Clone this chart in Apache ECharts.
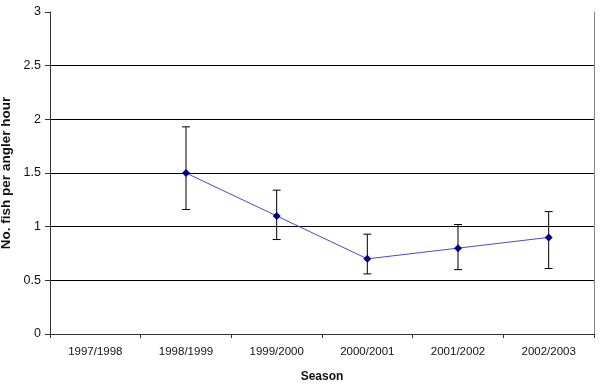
<!DOCTYPE html>
<html><head><meta charset="utf-8">
<script src="https://cdn.jsdelivr.net/npm/echarts@6/dist/echarts.min.js"></script>
<style>html,body{margin:0;padding:0;background:#fff}#c{width:600px;height:389px}</style>
</head><body><div id="c"></div>
<script>
const categories = ['1997/1998','1998/1999','1999/2000','2000/2001','2001/2002','2002/2003'];
const means = [null, 1.5, 1.1, 0.7, 0.8, 0.9];
const upper = [null, 1.93, 1.34, 0.93, 1.02, 1.14];
const lower = [null, 1.16, 0.88, 0.56, 0.6, 0.61];
const yTicks = [0, 0.5, 1, 1.5, 2, 2.5, 3];

const errData = categories.map((c, i) => [i, lower[i], upper[i]]).filter(d => d[1] != null);

const chart = echarts.init(document.getElementById('c'), null, {renderer: 'canvas'});
const font = 'Liberation Sans, Arial, sans-serif';
chart.setOption({
  animation: false,
  grid: {left: 50, right: 6, top: 12, bottom: 55, containLabel: false, outerBoundsMode: 'none'},
  xAxis: {
    type: 'category', data: categories, boundaryGap: true,
    axisLine: {lineStyle: {color: '#333', width: 1}},
    axisTick: {show: true, length: 4, lineStyle: {color: '#333'}},
    axisLabel: {color: '#111', fontSize: 11.5, fontFamily: font, margin: 12},
    name: 'Season', nameLocation: 'middle', nameGap: 37, nameMoveOverlap: false,
    nameTextStyle: {fontWeight: 'bold', fontSize: 12, color: '#111', fontFamily: font}
  },
  yAxis: [{
    type: 'value', min: yTicks[0], max: yTicks[yTicks.length - 1], interval: 0.5,
    axisLine: {show: true, lineStyle: {color: '#333'}},
    axisTick: {show: true, length: 5, lineStyle: {color: '#333'}},
    axisLabel: {color: '#111', fontSize: 12.5, fontFamily: font, margin: 9},
    splitLine: {show: true, lineStyle: {color: ['#000','#000','#000','#000','#000','#000','transparent'], width: 1}},
    name: 'No. fish per angler hour', nameLocation: 'middle', nameGap: 37, nameMoveOverlap: false,
    nameTextStyle: {fontWeight: 'bold', fontSize: 13.5, color: '#111', fontFamily: font}
  }, {
    type: 'value', min: yTicks[0], max: yTicks[yTicks.length - 1], position: 'right',
    axisLine: {show: true, lineStyle: {color: '#888'}},
    axisTick: {show: false}, axisLabel: {show: false}, splitLine: {show: false}
  }],
  series: [{
    type: 'custom',
    data: errData,
    z: 3,
    renderItem: function (params, api) {
      const x = api.value(0);
      const lo = api.coord([x, api.value(1)]);
      const hi = api.coord([x, api.value(2)]);
      const hw = 4;
      const st = {stroke: '#000', lineWidth: 1};
      return {type: 'group', children: [
        {type: 'line', shape: {x1: lo[0], y1: lo[1], x2: hi[0], y2: hi[1]}, style: st},
        {type: 'line', shape: {x1: lo[0]-hw, y1: lo[1], x2: lo[0]+hw, y2: lo[1]}, style: st},
        {type: 'line', shape: {x1: hi[0]-hw, y1: hi[1], x2: hi[0]+hw, y2: hi[1]}, style: st}
      ]};
    }
  }, {
    type: 'line', data: means, z: 4,
    symbol: 'diamond', symbolSize: 8,
    itemStyle: {color: '#00008b'},
    lineStyle: {color: '#4a4ac8', width: 1}
  }]
});
</script></body></html>
